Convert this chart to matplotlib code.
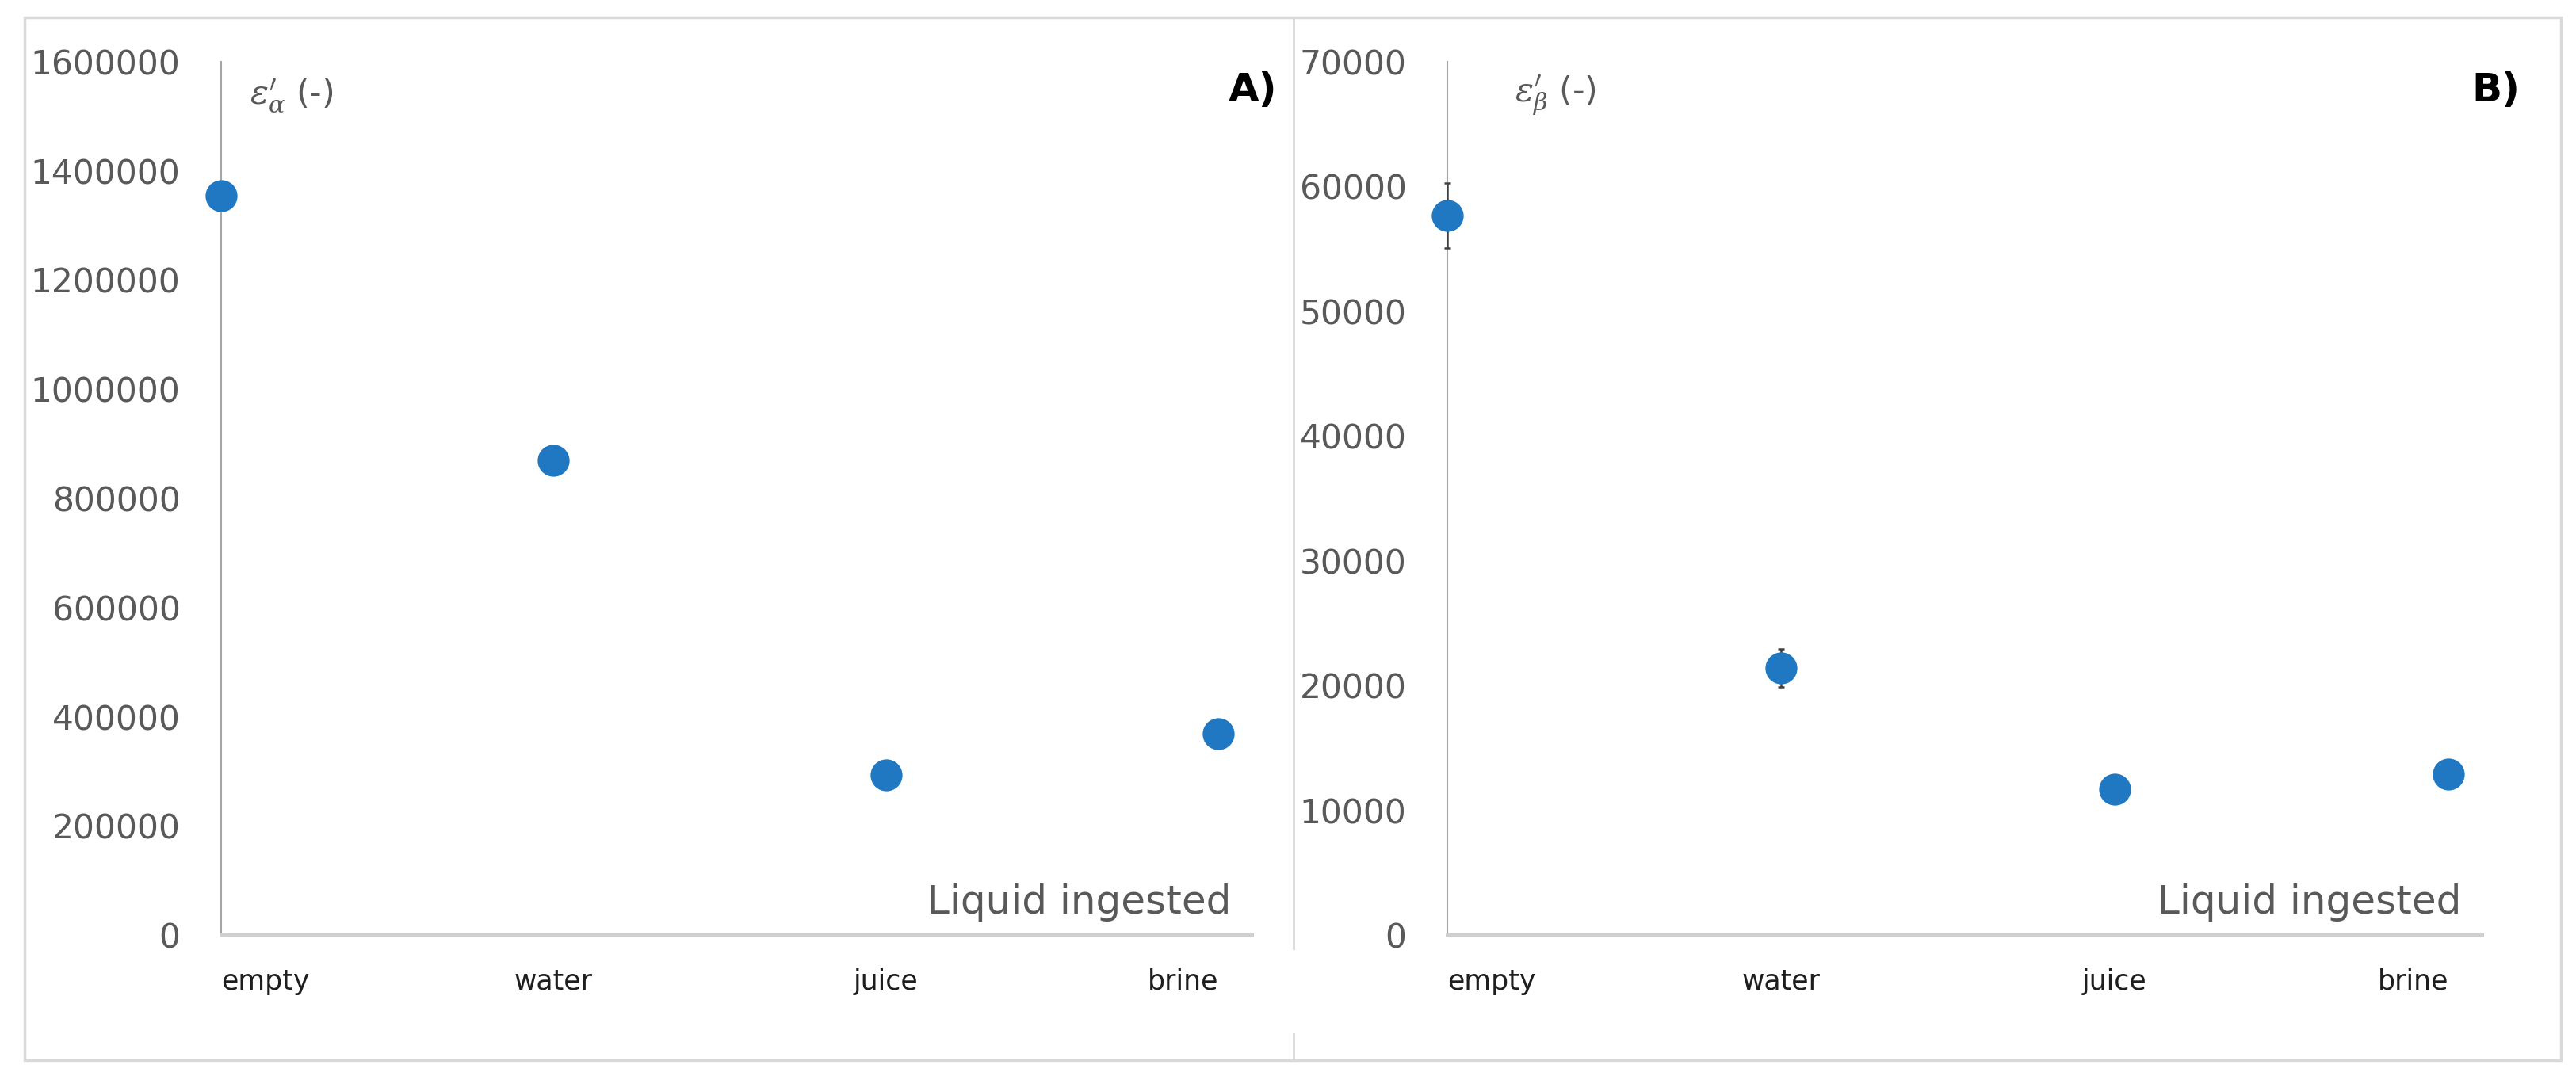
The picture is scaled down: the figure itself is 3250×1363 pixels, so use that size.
import numpy as np
import matplotlib
matplotlib.use("Agg")
import matplotlib.pyplot as plt
from matplotlib.patches import Rectangle
from matplotlib.lines import Line2D

plt.rcParams['font.family'] = ['DejaVu Sans']
plt.rcParams['mathtext.fontset'] = 'dejavuserif'

# data
categories = ['empty', 'water', 'juice', 'brine']
eps_alpha = [1354000, 869000, 294000, 369500]
eps_beta = [57700, 21400, 11700, 12900]
eps_beta_err = [2600, 1500, 300, 300]

alpha_ticks = np.arange(0, 1600001, 200000)
beta_ticks = np.arange(0, 70001, 10000)

W, H = 3250, 1363
fig = plt.figure(figsize=(W / 100, H / 100), dpi=100)

gray_txt = '#595959'
blue = '#1f78c1'


def fx(px):
    return px / W


def fy(py):
    return 1 - py / H


def style_axes(ax, yticks):
    x = np.arange(len(categories))
    ax.set_xlim(0, 3.1)
    ax.set_ylim(yticks[0], yticks[-1])
    ax.set_yticks(yticks)
    ax.set_yticklabels([str(v) for v in yticks])
    ax.set_xticks(x)
    ax.set_xticklabels(categories)
    labels = ax.get_xticklabels()
    labels[0].set_ha('left')
    labels[-1].set_ha('right')
    ax.tick_params(axis='y', length=0, pad=37, labelsize=30.5, labelcolor=gray_txt)
    ax.tick_params(axis='x', length=0, pad=30, labelsize=25, labelcolor='#1e1e1e')
    for s in ['top', 'right']:
        ax.spines[s].set_visible(False)
    ax.spines['left'].set_color('#a6a6a6')
    ax.spines['left'].set_linewidth(1.5)
    ax.spines['bottom'].set_color('#cfcfcf')
    ax.spines['bottom'].set_linewidth(3.6)
    ax.text(0.98, 0.015, 'Liquid ingested', transform=ax.transAxes, ha='right',
            va='bottom', fontsize=36, color=gray_txt)


# Panel A
axA = fig.add_axes([fx(279), fy(1180), fx(1579) - fx(279), fy(78) - fy(1180)])
style_axes(axA, alpha_ticks)
axA.plot(np.arange(len(categories)), eps_alpha, 'o', color=blue, markersize=29,
         markeredgewidth=0, clip_on=False, zorder=5)
axA.text(0.028, 0.962, r"$\varepsilon^{\prime}_{\alpha}$ (-)", transform=axA.transAxes,
         ha='left', va='center', fontsize=31, color=gray_txt)

# Panel B
axB = fig.add_axes([fx(1826), fy(1180), fx(3131) - fx(1826), fy(78) - fy(1180)])
style_axes(axB, beta_ticks)
axB.errorbar(np.arange(len(categories)), eps_beta, yerr=eps_beta_err, fmt='none',
             ecolor='#404040', elinewidth=1.8, capsize=3, capthick=1.8,
             clip_on=False, zorder=4)
axB.plot(np.arange(len(categories)), eps_beta, 'o', color=blue, markersize=29,
         markeredgewidth=0, clip_on=False, zorder=5)
axB.text(0.065, 0.962, r"$\varepsilon^{\prime}_{\beta}$ (-)", transform=axB.transAxes,
         ha='left', va='center', fontsize=31, color=gray_txt)

# panel letters
fig.text(fx(1611), fy(114), 'A)', ha='right', va='center', fontsize=36,
         fontweight='bold', color='black')
fig.text(fx(3179), fy(114), 'B)', ha='right', va='center', fontsize=36,
         fontweight='bold', color='black')

# outer frame and divider
fig.add_artist(Rectangle((fx(31), fy(1338)), fx(3231) - fx(31), fy(22) - fy(1338),
                         transform=fig.transFigure, fill=False,
                         edgecolor='#d9d9d9', linewidth=2.5))
fig.add_artist(Line2D([fx(1632), fx(1632)], [fy(1197), fy(22)],
                      transform=fig.transFigure, color='#d9d9d9', linewidth=2))
fig.add_artist(Line2D([fx(1632), fx(1632)], [fy(1338), fy(1305)],
                      transform=fig.transFigure, color='#d9d9d9', linewidth=2))

fig.savefig('out.png', dpi=100)
